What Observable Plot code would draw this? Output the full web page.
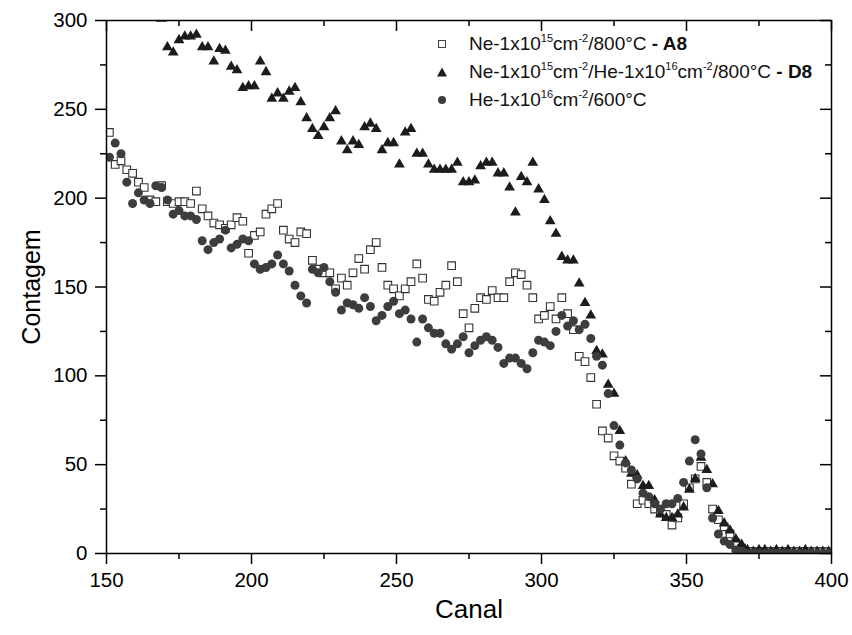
<!DOCTYPE html>
<html>
<head>
<meta charset="utf-8">
<script src="https://cdn.jsdelivr.net/npm/d3@7"></script>
<script src="https://cdn.jsdelivr.net/npm/@observablehq/plot@0.6"></script>
<style>
  html, body { margin: 0; padding: 0; background: #fff; }
  #wrap { position: relative; width: 852px; height: 635px; font-family: "Liberation Sans", Arial, sans-serif; }
  #legend { position: absolute; left: 436px; top: 30px; font-size: 19px; color: #111; }
  .row { position: relative; height: 28px; white-space: nowrap; }
  .row svg { position: absolute; left: 0; top: 8px; }
  .row span.t { position: absolute; left: 33px; top: 4px; line-height: 20px; }
  sup { font-size: 0.58em; vertical-align: 0.7em; line-height: 0; }
</style>
</head>
<body>
<div id="wrap">
  <div id="chart"></div>
  <div id="legend"></div>
</div>
<script>
// Channels (Canal)
const canal = [151,153,155,157,159,161,163,165,167,169,
  171,173,175,177,179,181,183,185,187,189,
  191,193,195,197,199,201,203,205,207,209,
  211,213,215,217,219,221,223,225,227,229,
  231,233,235,237,239,241,243,245,247,249,
  251,253,255,257,259,261,263,265,267,269,
  271,273,275,277,279,281,283,285,287,289,
  291,293,295,297,299,301,303,305,307,309,
  311,313,315,317,319,321,323,325,327,329,
  331,333,335,337,339,341,343,345,347,349,
  351,353,355,357,359,361,363,365,367,369,
  371,373,375,377,379,381,383,385,387,389,
  391,393,395,397,399];

// Ne-1x10^15 cm^-2 / 800°C - A8 (open squares)
const contagemA8 = [237,219,221,216,214,209,206,199,198,207,
  198,197,198,198,197,204,194,190,186,185,
  183,185,189,187,169,179,181,191,194,197,
  182,177,175,181,180,165,160,158,158,149,
  155,151,158,166,160,171,175,161,151,149,
  145,149,153,163,155,143,142,147,151,162,
  153,135,127,138,144,143,148,144,144,153,
  158,157,151,144,132,134,139,132,144,135,
  126,111,108,99,84,69,65,55,52,48,
  39,28,30,28,25,23,22,16,20,28,
  37,42,49,40,25,19,15,11,6,3,
  1,1,1,1,1,1,1,1,1,1,
  1,1,1,1,1];

// Ne-1x10^15 cm^-2 / He-1x10^16 cm^-2 / 800°C - D8 (filled triangles)
const contagemD8 = [null,null,null,null,null,null,null,null,null,301,
  285,282,289,291,291,292,285,285,277,284,
  283,274,272,262,263,263,277,271,256,259,
  256,260,262,254,245,239,235,240,245,249,
  232,227,232,230,240,242,239,227,231,231,
  219,237,239,225,225,219,216,216,216,216,
  220,209,209,210,218,220,220,214,214,206,
  192,212,209,220,205,199,187,180,167,165,
  165,152,141,134,114,112,95,90,69,52,
  45,44,38,38,30,22,20,20,22,26,
  36,42,54,47,39,24,17,13,8,5,
  2,1,2,2,1,2,1,2,1,1,
  2,1,1,1,1];

// He-1x10^16 cm^-2 / 600°C (filled circles)
const contagemHe = [223,231,225,209,197,203,199,197,207,206,
  199,191,193,190,190,188,176,171,175,177,
  182,172,174,177,176,163,160,161,163,168,
  163,159,151,145,141,160,158,161,153,147,
  137,141,140,138,144,139,131,134,139,142,
  135,137,132,119,132,127,124,124,118,115,
  118,122,113,117,120,122,120,116,107,110,
  110,107,104,113,120,119,117,125,134,128,
  131,126,129,121,111,106,90,72,61,51,
  47,42,34,32,28,25,28,28,31,40,
  52,64,56,37,20,11,7,5,2,1,
  0,0,0,0,0,0,0,0,0,0,
  0,0,0,0,0];

const xMajor = [150,200,250,300,350,400];
const xMinor = [175,225,275,325,375];
const yMajor = [0,50,100,150,200,250,300];
const yMinor = [25,75,125,175,225,275];

const legendItems = [
  {symbol: "square", html: "Ne-1x10<sup>15</sup>cm<sup>-2</sup>/800°C <b>- A8</b>"},
  {symbol: "triangle", html: "Ne-1x10<sup>15</sup>cm<sup>-2</sup>/He-1x10<sup>16</sup>cm<sup>-2</sup>/800°C <b>- D8</b>"},
  {symbol: "circle", html: "He-1x10<sup>16</sup>cm<sup>-2</sup>/600°C"}
];

const toRows = (vals) => canal.map((c, i) => ({canal: c, contagem: vals[i]})).filter(d => d.contagem != null);
const A8 = toRows(contagemA8), D8 = toRows(contagemD8), He = toRows(contagemHe);

const chart = Plot.plot({
  width: 852,
  height: 635,
  marginLeft: 106,
  marginRight: 21,
  marginTop: 20,
  marginBottom: 82,
  style: {fontFamily: "'Liberation Sans', Arial, sans-serif", fontSize: "20.5px", background: "white", color: "#000"},
  x: {domain: [150, 400]},
  y: {domain: [0, 300]},
  marks: [
    Plot.axisX({anchor: "bottom", ticks: xMajor, tickSize: 11, tickPadding: 8, strokeWidth: 1.5, label: null, tickFormat: d => String(d)}),
    Plot.axisX({anchor: "bottom", ticks: xMinor, tickSize: 6, strokeWidth: 1.5, fill: "none", label: null}),
    Plot.axisX({anchor: "bottom", frameAnchor: "top", ticks: xMajor, tickSize: 11, strokeWidth: 1.5, fill: "none", label: null}),
    Plot.axisX({anchor: "bottom", frameAnchor: "top", ticks: xMinor, tickSize: 6, strokeWidth: 1.5, fill: "none", label: null}),
    Plot.axisY({anchor: "left", ticks: yMajor, tickSize: 11, tickPadding: 8, strokeWidth: 1.5, label: null, tickFormat: d => String(d)}),
    Plot.axisY({anchor: "left", ticks: yMinor, tickSize: 6, strokeWidth: 1.5, fill: "none", label: null}),
    Plot.axisY({anchor: "left", frameAnchor: "right", ticks: yMajor, tickSize: 11, strokeWidth: 1.5, fill: "none", label: null}),
    Plot.axisY({anchor: "left", frameAnchor: "right", ticks: yMinor, tickSize: 6, strokeWidth: 1.5, fill: "none", label: null}),
    Plot.dot(A8, {x: "canal", y: "contagem", symbol: "square", r: 4.3, fill: "white", stroke: "#333", strokeWidth: 1.1, clip: true}),
    Plot.dot(D8, {x: "canal", y: "contagem", symbol: "triangle", r: 4, fill: "#1c1c1c", stroke: "none", clip: true}),
    Plot.dot(He, {x: "canal", y: "contagem", symbol: "circle", r: 4.5, fill: "#3d3d3d", stroke: "none", clip: true}),
    Plot.frame({stroke: "#000", strokeWidth: 1.5}),
    Plot.text(["Canal"], {frameAnchor: "bottom", lineAnchor: "middle", textAnchor: "middle", dy: 56, fontSize: 26, text: d => d}),
    Plot.text(["Contagem"], {frameAnchor: "left", lineAnchor: "middle", textAnchor: "middle", dx: -75, rotate: -90, fontSize: 25, text: d => d})
  ]
});
document.getElementById("chart").appendChild(chart);

// legend
const legend = document.getElementById("legend");
const symbolSvg = {
  square: '<svg width="12" height="12"><rect x="2.5" y="2.5" width="7" height="7" fill="white" stroke="#444" stroke-width="1"/></svg>',
  triangle: '<svg width="12" height="12"><path d="M6,1.5L11,10.5L1,10.5Z" fill="#1c1c1c"/></svg>',
  circle: '<svg width="12" height="12"><circle cx="6" cy="6" r="4" fill="#3d3d3d"/></svg>'
};
legendItems.forEach(it => {
  const row = document.createElement("div");
  row.className = "row";
  row.innerHTML = symbolSvg[it.symbol] + '<span class="t">' + it.html + '</span>';
  legend.appendChild(row);
});
</script>
</body>
</html>
